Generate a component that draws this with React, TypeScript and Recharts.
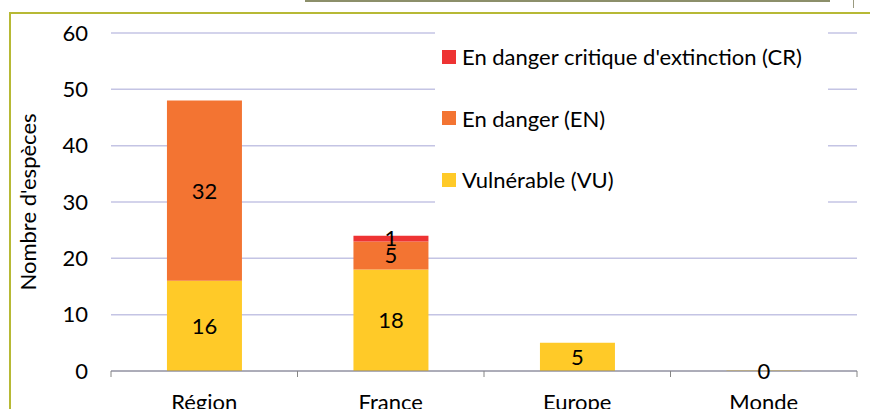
import { BarChart, Bar, XAxis, YAxis, CartesianGrid, Legend, LabelList, Label } from 'recharts';

const categories = ['Région', 'France', 'Europe', 'Monde'];
const vu: (number | null)[] = [16, 18, 5, 0];
const en: (number | null)[] = [32, 5, null, null];
const cr: (number | null)[] = [null, 1, null, null];
const yTicks = [0, 10, 20, 30, 40, 50, 60];

const seriesInfo = [
  { key: 'cr', name: "En danger critique d'extinction (CR)", color: '#ee3333' },
  { key: 'en', name: 'En danger (EN)', color: '#f37432' },
  { key: 'vu', name: 'Vulnérable (VU)', color: '#ffca28' },
];

const data = categories.map((c, i) => ({ cat: c, vu: vu[i], en: en[i], cr: cr[i] }));

const W = 870;
const H = 409;
const plotLeft = 111;
const plotRight = 857;
const bandW = (plotRight - plotLeft) / categories.length;
const font = 'Lato, "Open Sans", sans-serif';
const fs = 22;

// ticks Excel-style : traits aux limites des catégories
function CatTick(props: any) {
  const { x, y, payload, index } = props;
  const last = index === categories.length - 1;
  return (
    <g>
      <line x1={x - bandW / 2} x2={x - bandW / 2} y1={y - 8} y2={y - 2} stroke="#868686" />
      {last && <line x1={x + bandW / 2} x2={x + bandW / 2} y1={y - 8} y2={y - 2} stroke="#868686" />}
      <text x={x} y={y + 31} textAnchor="middle" fontSize={fs} fill="#000" fontFamily={font}>
        {payload.value}
      </text>
    </g>
  );
}

function LegendBox() {
  return (
    <div style={{ background: '#fff', width: 393, fontFamily: font, fontSize: fs, color: '#000' }}>
      {seriesInfo.map((s) => (
        <div key={s.key} style={{ height: 61.5, display: 'flex', alignItems: 'center' }}>
          <span style={{ display: 'inline-block', width: 14, height: 14, background: s.color, marginLeft: 7, marginRight: 6 }} />
          <span>{s.name}</span>
        </div>
      ))}
    </div>
  );
}

export default function App() {
  return (
    <div style={{ position: 'absolute', left: 0, top: 0, width: W, height: H, overflow: 'hidden', background: '#fff' }}>
      {/* cadre */}
      <div style={{ position: 'absolute', left: 305, top: 0, width: 525, height: 2, background: '#8c8f6a' }} />
      <div style={{ position: 'absolute', left: 853, top: 0, width: 1, height: 8, background: '#9a9a80' }} />
      <div style={{ position: 'absolute', left: 9, top: 12, width: 861, height: 2, background: '#b7b935' }} />
      <div style={{ position: 'absolute', left: 9, top: 12, width: 2, height: 397, background: '#b7b935' }} />
      <div style={{ position: 'absolute', left: 0, top: 0 }}>
        <BarChart width={W} height={H} data={data} margin={{ top: 33, right: W - plotRight, left: 11, bottom: 0 }} barCategoryGap="30%">
          <CartesianGrid vertical={false} stroke="#c4c4e4" strokeWidth={1.5} />
          <XAxis dataKey="cat" height={H - 371} axisLine={{ stroke: '#868686' }} tickLine={false} tick={<CatTick />} interval={0} />
          <YAxis width={100} domain={[0, 60]} ticks={yTicks} axisLine={false} tickLine={false} tickMargin={17}
            tick={{ fontSize: fs, fill: '#000', fontFamily: font }}>
            <Label value="Nombre d'espèces" angle={-90} position="insideLeft" offset={17}
              style={{ textAnchor: 'middle', fontSize: fs, fill: '#000', fontFamily: font }} />
          </YAxis>
          <Legend content={<LegendBox />} layout="vertical" verticalAlign="middle" align="center"
            wrapperStyle={{ top: 26, left: 435, width: 393 }} />
          <Bar dataKey="vu" stackId="a" fill="#ffca28" name="Vulnérable (VU)" isAnimationActive={false}
            minPointSize={(v: number) => (v === 0 ? 0.5 : 0)}>
            <LabelList dataKey="vu" position="center" fill="#000" fontSize={fs} fontFamily={font} />
          </Bar>
          <Bar dataKey="en" stackId="a" fill="#f37432" name="En danger (EN)" isAnimationActive={false}>
            <LabelList dataKey="en" position="center" fill="#000" fontSize={fs} fontFamily={font} />
          </Bar>
          <Bar dataKey="cr" stackId="a" fill="#ee3333" name="En danger critique d'extinction (CR)" isAnimationActive={false}>
            <LabelList dataKey="cr" position="center" fill="#000" fontSize={fs} fontFamily={font} />
          </Bar>
        </BarChart>
      </div>
    </div>
  );
}
